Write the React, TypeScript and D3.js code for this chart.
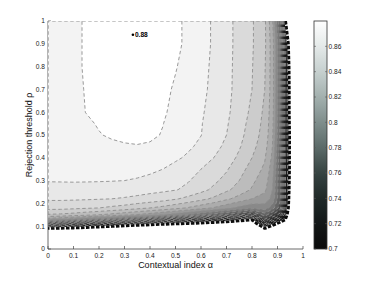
import React, { useMemo } from "react";
import * as d3 from "d3";

// ---------- data ----------
const ALPHA = [0, 0.05, 0.1, 0.15, 0.2, 0.25, 0.3, 0.35, 0.4, 0.45, 0.5, 0.55, 0.6, 0.65, 0.7, 0.75, 0.8, 0.85, 0.88, 0.91, 0.93, 0.95, 0.97];
const RHO = [0.06, 0.09, 0.11, 0.13, 0.15, 0.18, 0.22, 0.26, 0.3, 0.35, 0.4, 0.45, 0.5, 0.55, 0.6, 0.7, 0.8, 0.9, 1.0];

// accuracy grid, rows from rho = 0.06 (bottom) up to rho = 1.0 (top), columns follow ALPHA
const Z = [
  [0.5, 0.5, 0.5, 0.5, 0.5, 0.5, 0.5, 0.5, 0.5, 0.5, 0.5, 0.5, 0.5, 0.5, 0.5, 0.5, 0.5, 0.5, 0.5, 0.5, 0.5, 0.5, 0.5],
  [0.702, 0.699, 0.696, 0.692, 0.688, 0.684, 0.68, 0.676, 0.672, 0.668, 0.664, 0.66, 0.655, 0.65, 0.645, 0.64, 0.635, 0.701, 0.68, 0.64, 0.6, 0.55, 0.5],
  [0.76, 0.752, 0.744, 0.736, 0.728, 0.722, 0.716, 0.712, 0.708, 0.704, 0.701, 0.697, 0.693, 0.689, 0.685, 0.68, 0.675, 0.74, 0.712, 0.69, 0.67, 0.6, 0.5],
  [0.805, 0.8, 0.795, 0.79, 0.785, 0.78, 0.774, 0.768, 0.762, 0.756, 0.75, 0.742, 0.735, 0.727, 0.72, 0.712, 0.704, 0.76, 0.74, 0.72, 0.705, 0.65, 0.5],
  [0.829, 0.828, 0.826, 0.823, 0.82, 0.817, 0.813, 0.809, 0.805, 0.8, 0.795, 0.789, 0.782, 0.775, 0.768, 0.76, 0.753, 0.775, 0.76, 0.745, 0.715, 0.68, 0.5],
  [0.843, 0.843, 0.842, 0.841, 0.84, 0.838, 0.836, 0.833, 0.83, 0.827, 0.823, 0.819, 0.814, 0.809, 0.803, 0.797, 0.792, 0.795, 0.785, 0.765, 0.72, 0.69, 0.5],
  [0.8515, 0.8515, 0.8513, 0.851, 0.8505, 0.85, 0.849, 0.8475, 0.846, 0.844, 0.841, 0.837, 0.833, 0.828, 0.822, 0.816, 0.81, 0.806, 0.797, 0.772, 0.722, 0.693, 0.5],
  [0.8565, 0.8566, 0.8567, 0.8566, 0.8563, 0.856, 0.8555, 0.8545, 0.853, 0.852, 0.8505, 0.848, 0.843, 0.838, 0.832, 0.826, 0.819, 0.812, 0.8, 0.772, 0.722, 0.695, 0.5],
  [0.8605, 0.8606, 0.8607, 0.8606, 0.8605, 0.8603, 0.86, 0.859, 0.8575, 0.8555, 0.853, 0.8505, 0.847, 0.842, 0.837, 0.83, 0.822, 0.815, 0.802, 0.772, 0.722, 0.696, 0.5],
  [0.8615, 0.862, 0.8625, 0.863, 0.8635, 0.864, 0.864, 0.8635, 0.862, 0.86, 0.857, 0.8535, 0.85, 0.846, 0.841, 0.834, 0.826, 0.818, 0.805, 0.773, 0.722, 0.697, 0.5],
  [0.8625, 0.863, 0.8635, 0.864, 0.8648, 0.8655, 0.866, 0.866, 0.8655, 0.864, 0.8615, 0.8585, 0.855, 0.85, 0.845, 0.838, 0.83, 0.821, 0.808, 0.774, 0.723, 0.697, 0.5],
  [0.8635, 0.864, 0.865, 0.866, 0.867, 0.868, 0.869, 0.8695, 0.869, 0.867, 0.8645, 0.8615, 0.858, 0.853, 0.848, 0.841, 0.833, 0.824, 0.81, 0.776, 0.724, 0.697, 0.5],
  [0.864, 0.865, 0.866, 0.867, 0.8695, 0.8712, 0.8722, 0.8725, 0.8715, 0.8695, 0.866, 0.863, 0.8602, 0.855, 0.85, 0.843, 0.835, 0.826, 0.812, 0.778, 0.725, 0.697, 0.5],
  [0.8645, 0.8655, 0.867, 0.8685, 0.8708, 0.872, 0.873, 0.8733, 0.8722, 0.8702, 0.867, 0.8635, 0.8605, 0.856, 0.851, 0.844, 0.8365, 0.827, 0.813, 0.779, 0.725, 0.696, 0.5],
  [0.865, 0.866, 0.8675, 0.8702, 0.872, 0.873, 0.874, 0.874, 0.873, 0.871, 0.868, 0.864, 0.861, 0.857, 0.852, 0.845, 0.838, 0.828, 0.814, 0.78, 0.725, 0.695, 0.5],
  [0.866, 0.867, 0.868, 0.8705, 0.873, 0.875, 0.876, 0.876, 0.875, 0.872, 0.869, 0.866, 0.862, 0.858, 0.853, 0.846, 0.84, 0.83, 0.815, 0.78, 0.725, 0.695, 0.5],
  [0.866, 0.867, 0.868, 0.871, 0.874, 0.876, 0.878, 0.878, 0.877, 0.874, 0.8705, 0.867, 0.8625, 0.8585, 0.853, 0.8465, 0.8405, 0.831, 0.815, 0.78, 0.723, 0.694, 0.5],
  [0.866, 0.867, 0.868, 0.871, 0.874, 0.877, 0.879, 0.8795, 0.879, 0.876, 0.872, 0.868, 0.863, 0.859, 0.853, 0.847, 0.841, 0.832, 0.815, 0.78, 0.72, 0.69, 0.5],
  [0.866, 0.867, 0.868, 0.871, 0.874, 0.877, 0.878, 0.8785, 0.878, 0.876, 0.872, 0.868, 0.863, 0.859, 0.853, 0.847, 0.841, 0.832, 0.812, 0.77, 0.705, 0.66, 0.5],
];

const LEVELS = [0.7, 0.71, 0.72, 0.73, 0.74, 0.75, 0.76, 0.77, 0.78, 0.79, 0.8, 0.81, 0.82, 0.83, 0.84, 0.85, 0.86, 0.87];
const CBAR_TICKS = [0.7, 0.72, 0.74, 0.76, 0.78, 0.8, 0.82, 0.84, 0.86];
const CBAR_RANGE = [0.7, 0.88];
const X_TICKS = [0, 0.1, 0.2, 0.3, 0.4, 0.5, 0.6, 0.7, 0.8, 0.9, 1];
const Y_TICKS = [0, 0.1, 0.2, 0.3, 0.4, 0.5, 0.6, 0.7, 0.8, 0.9, 1];
const PEAK_POINT = [0.333, 0.94];
const PEAK_LABEL = "0.88";
const X_LABEL = "Contextual index \u03b1";
const Y_LABEL = "Rejection threshold \u03c1";

// ---------- style ----------
const W = 374, H = 281;
const PL = 48, PR = 303, PT = 21, PB = 249;
const CB = { x: 314, w: 13 };
const FONT = "Liberation Sans, Arial, Helvetica, sans-serif";
const LUM_U = [0, 0.11, 0.22, 0.33, 0.44, 0.56, 0.67, 0.78, 0.89, 1];
const LUM_V = [10, 22, 38, 62, 100, 138, 173, 205, 232, 255];

export default function App() {
  const x = d3.scaleLinear().domain([0, 1]).range([PL, PR]);
  const y = d3.scaleLinear().domain([0, 1]).range([PB, PT]);
  const cy = d3.scaleLinear().domain(CBAR_RANGE).range([PB, PT]);
  const lum = d3.scaleLinear().domain(LUM_U).range(LUM_V).clamp(true);
  const uOf = (v: number) => (v - CBAR_RANGE[0]) / (CBAR_RANGE[1] - CBAR_RANGE[0]);
  const grayFill = (v: number) => {
    const l = Math.round(lum(uOf(v)));
    return `rgb(${l},${l},${l})`;
  };
  const tintFill = (v: number) => {
    const l = lum(uOf(v));
    const t = Math.sin(Math.PI * Math.min(1, Math.max(0, uOf(v))));
    const r = Math.round(Math.min(255, l - 10 * t));
    const g = Math.round(Math.min(255, l + 5 * t));
    const b = Math.round(Math.min(255, l + 3 * t));
    return `rgb(${r},${g},${b})`;
  };

  const { paths } = useMemo(() => {
    const nx = ALPHA.length, ny = RHO.length;
    const flat = ([] as number[]).concat(...Z);
    const cs = d3.contours().size([nx, ny]).thresholds(LEVELS)(flat);
    const ix = d3.scaleLinear().domain(d3.range(nx)).range(ALPHA);
    const iy = d3.scaleLinear().domain(d3.range(ny)).range(RHO);
    const proj = d3.geoTransform({
      point(px: number, py: number) {
        (this as any).stream.point(x(ix(px - 0.5)), y(iy(py - 0.5)));
      },
    });
    const gp = d3.geoPath(proj);
    return { paths: cs.map((c) => ({ value: c.value, d: gp(c as any) || "" })) };
  }, []);

  const gradStops = d3.range(0, 1.0001, 0.02).map((u) => ({
    off: u,
    color: tintFill(CBAR_RANGE[0] + u * (CBAR_RANGE[1] - CBAR_RANGE[0])),
  }));

  const tickFont = 6.6;
  const axisColor = "#444";

  return (
    <svg width={W} height={H} style={{ position: "absolute", left: 0, top: 0, background: "#fff" }} fontFamily={FONT}>
      <defs>
        <clipPath id="plotClip">
          <rect x={PL} y={PT} width={PR - PL} height={PB - PT} />
        </clipPath>
        <linearGradient id="cbar" x1="0" y1="1" x2="0" y2="0">
          {gradStops.map((s, i) => (
            <stop key={i} offset={s.off} stopColor={s.color} />
          ))}
        </linearGradient>
      </defs>
      <rect width={W} height={H} fill="#fff" />

      {/* y axis (under fills) */}
      <line x1={x(0)} x2={x(0)} y1={y(0)} y2={y(1)} stroke={axisColor} strokeWidth={0.8} />
      {Y_TICKS.map((t) => (
        <line key={"yt" + t} x1={x(0)} x2={x(0) + 3} y1={y(t)} y2={y(t)} stroke={axisColor} strokeWidth={0.7} />
      ))}

      <g clipPath="url(#plotClip)">
        {paths.map((p) => (
          <path key={"f" + p.value} d={p.d} fill={grayFill(p.value + 0.01)} stroke="none" />
        ))}
        {paths.slice(1).map((p) => (
          <path key={"l" + p.value} d={p.d} fill="none" stroke="#8e8e8e" strokeWidth={0.9} strokeDasharray="3.5,2.5" />
        ))}
        {paths.slice(0, 1).map((p) => (
          <g key="edge">
            <path d={p.d} fill="none" stroke="#fff" strokeWidth={2.4} strokeDasharray="2,3" strokeDashoffset={-3.5} />
            <path d={p.d} fill="none" stroke="#0c0c0c" strokeWidth={2.6} strokeDasharray="3.5,1.5" />
          </g>
        ))}
        <polyline
          points={`${x(0)},${y(0.15)} ${x(0)},${y(1)} ${x(0.88)},${y(1)}`}
          fill="none"
          stroke="#8e8e8e"
          strokeWidth={1.2}
          strokeDasharray="3.5,2.5"
        />
      </g>

      {/* x axis */}
      <line x1={x(0)} x2={x(1)} y1={y(0)} y2={y(0)} stroke={axisColor} strokeWidth={0.8} />
      {X_TICKS.map((t) => (
        <g key={"xt" + t}>
          <line x1={x(t)} x2={x(t)} y1={y(0)} y2={y(0) - 3} stroke={axisColor} strokeWidth={0.7} />
          <text x={x(t)} y={y(0) + 9} fontSize={tickFont} textAnchor="middle" fill="#222">
            {String(t)}
          </text>
        </g>
      ))}
      {Y_TICKS.map((t) => (
        <text key={"yl" + t} x={x(0) - 3} y={y(t) + 2.3} fontSize={tickFont} textAnchor="end" fill="#222">
          {String(t)}
        </text>
      ))}

      {/* peak annotation */}
      <circle cx={x(PEAK_POINT[0])} cy={y(PEAK_POINT[1])} r={1.3} fill="#000" />
      <text x={x(PEAK_POINT[0]) + 2} y={y(PEAK_POINT[1]) + 2.3} fontSize={6.6} fill="#000" fontWeight="bold">
        {PEAK_LABEL}
      </text>

      {/* axis labels */}
      <text x={(PL + PR) / 2} y={268} fontSize={9} textAnchor="middle" fill="#111">
        {X_LABEL}
      </text>
      <text transform={`translate(32,${(PT + PB) / 2}) rotate(-90)`} fontSize={9} textAnchor="middle" fill="#111">
        {Y_LABEL}
      </text>

      {/* colorbar */}
      <rect x={CB.x} y={PT} width={CB.w} height={PB - PT} fill="url(#cbar)" stroke="#333" strokeWidth={0.8} />
      {CBAR_TICKS.map((t) => (
        <g key={"cb" + t}>
          <line x1={CB.x} x2={CB.x + 2} y1={cy(t)} y2={cy(t)} stroke="#555" strokeWidth={0.6} />
          <line x1={CB.x + CB.w - 2} x2={CB.x + CB.w} y1={cy(t)} y2={cy(t)} stroke="#555" strokeWidth={0.6} />
          <text x={CB.x + CB.w + 1.5} y={cy(t) + 2.3} fontSize={tickFont} fill="#222">
            {String(t)}
          </text>
        </g>
      ))}
    </svg>
  );
}
